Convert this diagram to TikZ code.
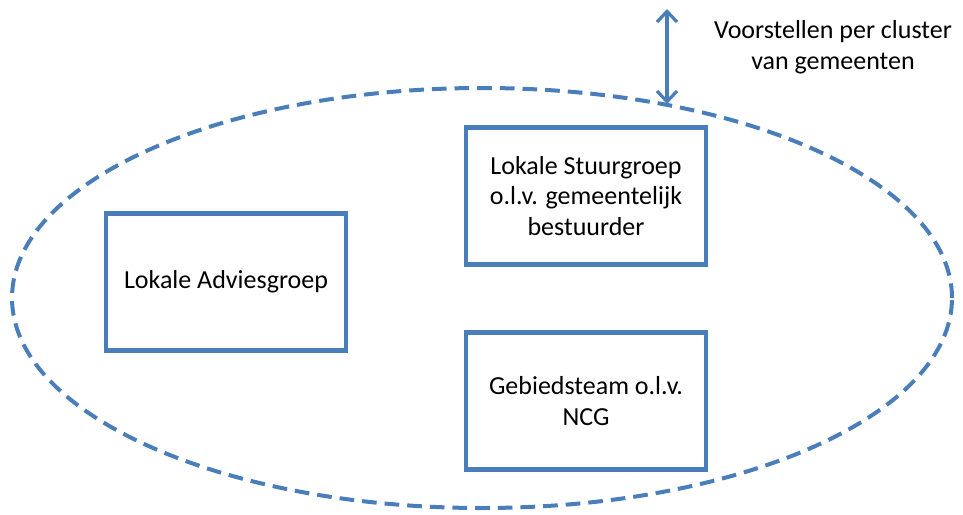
\documentclass[tikz,border=0pt]{standalone}
\usepackage{fontspec}
\setmainfont{Carlito}
\usetikzlibrary{positioning}
\usetikzlibrary{shapes.geometric}
\usetikzlibrary{arrows.meta}
\definecolor{officeblue}{RGB}{74,126,187}

\begin{document}
\begin{tikzpicture}
	[x=0.75pt,y=-0.75pt,
	group/.style={rectangle, draw=officeblue, line width=3.6pt, fill=white, minimum width=180pt, minimum height=103pt, align=center, font=\fontsize{19.5}{23}\selectfont},
	cluster/.style={ellipse, draw=officeblue, line width=3pt, dash pattern=on 11pt off 6pt, minimum width=705pt, minimum height=315pt, inner sep=0pt}]

\useasboundingbox (0,0) rectangle (963,514);
\node [cluster] (cluster) at (482,298) {};
\node [group] (advies) at (226,282) {Lokale Adviesgroep};
\node [group] (stuur) at (586,196) {Lokale Stuurgroep\\o.l.v. gemeentelijk\\bestuurder};
\node [group] (gebied) at (586,401) {Gebiedsteam o.l.v.\\NCG};

\coordinate (top) at (667,9);
\coordinate (rim) at (667,104);
\draw [{Straight Barb[length=8pt,width=15pt]}-{Straight Barb[length=8pt,width=15pt]},line width=2.4pt,draw=officeblue] (top) -- (rim);
\node [align=center,font=\fontsize{19.5}{23}\selectfont] (voorstel) at (833,47) {Voorstellen per cluster\\van gemeenten};

\end{tikzpicture}
\end{document}
